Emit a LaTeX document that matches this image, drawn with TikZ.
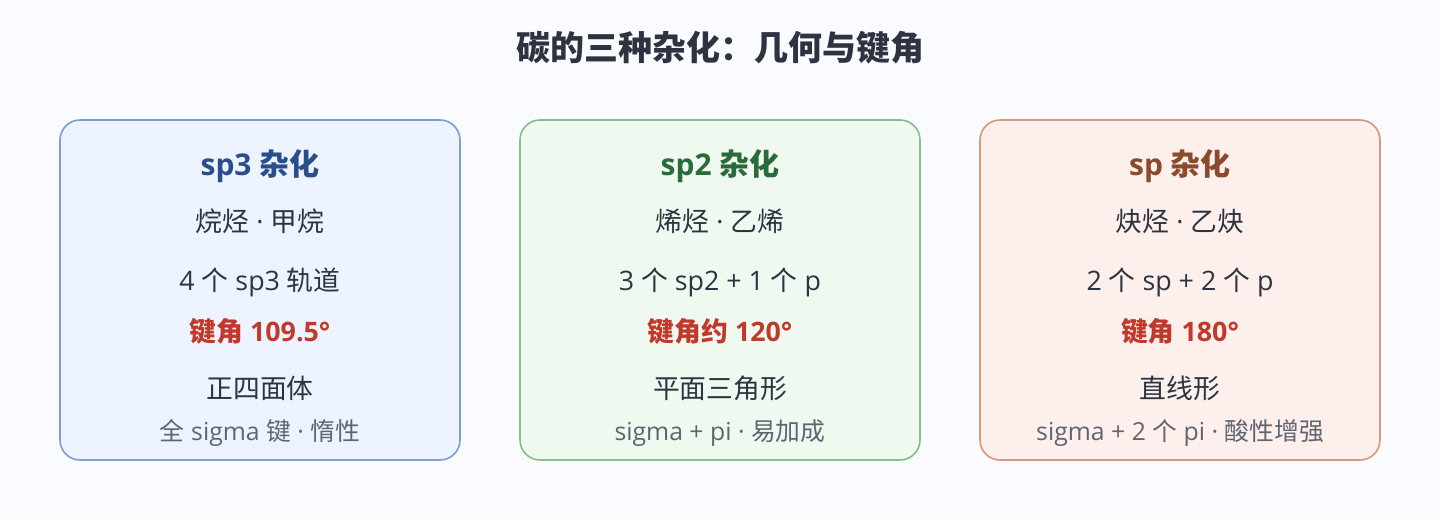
\documentclass[tikz,border=0pt]{standalone}
\usepackage{fontspec}
\setmainfont{Noto Sans CJK SC}
\newfontfamily\latn{Open Sans}
\usepackage{xcolor}
\definecolor{bgpage}{HTML}{FAFBFE}
\definecolor{txtmain}{HTML}{2D3340}
\definecolor{txtgray}{HTML}{5F6470}
\definecolor{txtred}{HTML}{C0392B}
\definecolor{sptfill}{HTML}{EEF4FF}
\definecolor{sptline}{HTML}{7D9DD3}
\definecolor{spthead}{HTML}{2A4E8C}
\definecolor{spbfill}{HTML}{F0F9F0}
\definecolor{spbline}{HTML}{82C08A}
\definecolor{spbhead}{HTML}{2A6B3A}
\definecolor{spafill}{HTML}{FDF0EC}
\definecolor{spaline}{HTML}{D9977E}
\definecolor{spahead}{HTML}{8B4A2A}
\newcommand*{\hybTitle}{\fontsize{17}{20}\selectfont\bfseries}
\newcommand*{\hybHead}{\fontsize{15}{18}\selectfont\bfseries}
\newcommand*{\hybBody}{\fontsize{13.4}{16}\selectfont}
\newcommand*{\hybNote}{\fontsize{12.4}{15}\selectfont}
\newcommand*{\lt}[1]{{\latn #1}}
\newcommand*{\mdot}{\lt{ · }}
\tikzset{
  hybbox/.style={rounded corners=10pt, line width=0.8pt},
  head/.style={font=\hybHead},
  body/.style={font=\hybBody, text=txtmain},
  angle/.style={font=\hybBody\bfseries, text=txtred},
  note/.style={font=\hybNote, text=txtgray}
}
\begin{document}
\begin{tikzpicture}[x=0.5pt,y=-0.5pt]
		\fill[bgpage] (0,0) rectangle (1440,520);
		\useasboundingbox (0,0) rectangle (1440,520);
		\node[font=\hybTitle, text=txtmain] (title) at (720,48) {碳的三种杂化：几何与键角};
		% sp3
		\draw[hybbox, fill=sptfill, draw=sptline] (60,120) rectangle (460,460);
		\node[head, text=spthead] (spthd) at (260,166) {\lt{sp3 }杂化};
		\node[body] (sptcls) at (260,221) {烷烃\mdot 甲烷};
		\node[body] (sptorb) at (260,282) {\lt{4 }个\lt{ sp3 }轨道};
		\node[angle] (sptang) at (260,331) {键角\lt{ 109.5°}};
		\node[body] (sptgeo) at (260,388) {正四面体};
		\node[note] (sptnote) at (260,433) {全\lt{ sigma }键\mdot 惰性};
		% sp2
		\draw[hybbox, fill=spbfill, draw=spbline] (520,120) rectangle (920,460);
		\node[head, text=spbhead] (spbhd) at (720,166) {\lt{sp2 }杂化};
		\node[body] (spbcls) at (720,221) {烯烃\mdot 乙烯};
		\node[body] (spborb) at (720,282) {\lt{3 }个\lt{ sp2 + 1 }个\lt{ p}};
		\node[angle] (spbang) at (720,331) {键角约\lt{ 120°}};
		\node[body] (spbgeo) at (720,388) {平面三角形};
		\node[note] (spbnote) at (720,433) {\lt{sigma + pi · }易加成};
		% sp
		\draw[hybbox, fill=spafill, draw=spaline] (980,120) rectangle (1380,460);
		\node[head, text=spahead] (spahd) at (1180,166) {\lt{sp }杂化};
		\node[body] (spacls) at (1180,221) {炔烃\mdot 乙炔};
		\node[body] (spaorb) at (1180,282) {\lt{2 }个\lt{ sp + 2 }个\lt{ p}};
		\node[angle] (spaang) at (1180,331) {键角\lt{ 180°}};
		\node[body] (spageo) at (1180,388) {直线形};
		\node[note] (spanote) at (1180,433) {\lt{sigma + 2 }个\lt{ pi · }酸性增强};
	\end{tikzpicture}
\end{document}
